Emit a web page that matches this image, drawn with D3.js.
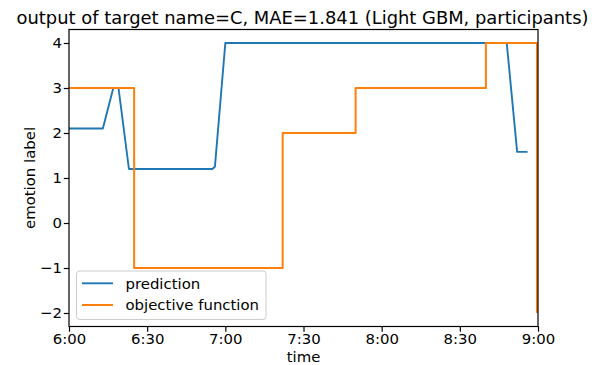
<!DOCTYPE html>
<html>
<head>
<meta charset="utf-8">
<script src="https://cdn.jsdelivr.net/npm/d3@7"></script>
<style>
  body { margin: 0; background: #fff; }
  text { font-family: "DejaVu Sans", sans-serif; fill: #000; }
</style>
</head>
<body>
<svg id="chart" width="606" height="365"></svg>
<script>
// prediction (sampled times, value)
const predTimes = ["06:00:00", "06:13:00", "06:17:00", "06:19:00", "06:23:00", "06:55:00",
                   "06:56:00", "07:00:00", "08:48:00", "08:52:00", "08:56:00"];
const predValues = [2.1, 2.1, 3, 3, 1.2, 1.2, 1.25, 4, 4, 1.58, 1.58];

// objective function (step changes)
const objTimes = ["06:00:00", "06:25:00", "06:25:00", "07:22:00", "07:22:00", "07:50:00",
                  "07:50:00", "08:40:00", "08:40:00", "08:59:36", "08:59:36"];
const objValues = [3, 3, -1, -1, 2, 2, 3, 3, 4, 4, -2];

const xTickLabels = ["6:00", "6:30", "7:00", "7:30", "8:00", "8:30", "9:00"];
const yTicks = [-2, -1, 0, 1, 2, 3, 4];

const parse = d3.timeParse("%H:%M:%S");
const parseTick = d3.timeParse("%H:%M");

const svg = d3.select("#chart");
const plotL = 69, plotR = 538, plotT = 29.5, plotB = 326.5;
const fs = "14.9px";

const x = d3.scaleTime()
  .domain([parse("06:00:00"), parse("09:00:00")])
  .range([plotL, plotR]);
const y = d3.scaleLinear()
  .domain([-2.3, 4.3])
  .range([plotB, plotT]);

const pred = predTimes.map((t, i) => ({ t: parse(t), v: predValues[i] }));
const obj = objTimes.map((t, i) => ({ t: parse(t), v: objValues[i] }));

const line = d3.line().x(d => x(d.t)).y(d => y(d.v));

svg.append("path").datum(pred)
  .attr("d", line).attr("fill", "none")
  .attr("stroke", "#1f77b4").attr("stroke-width", 1.9)
  .attr("stroke-linejoin", "round");
svg.append("path").datum(obj)
  .attr("d", line).attr("fill", "none")
  .attr("stroke", "#ff7f0e").attr("stroke-width", 2)
  .attr("stroke-linejoin", "round");

// axes
const xAxis = d3.axisBottom(x)
  .tickValues(xTickLabels.map(s => parseTick(s)))
  .tickFormat(d3.timeFormat("%-H:%M"))
  .tickSizeOuter(0).tickSize(5.2).tickPadding(2);
const gx = svg.append("g").attr("transform", `translate(0,${plotB})`).call(xAxis);

const yAxis = d3.axisLeft(y)
  .tickValues(yTicks)
  .tickFormat(d => d < 0 ? "\u2212" + Math.abs(d) : d)
  .tickSizeOuter(0).tickSize(5.2).tickPadding(1.8);
const gy = svg.append("g").attr("transform", `translate(${plotL},0)`).call(yAxis);

[gx, gy].forEach(g => {
  g.select(".domain").remove();
  g.selectAll(".tick line").attr("stroke", "#000").attr("stroke-width", 1.2);
  g.selectAll(".tick text").style("font-size", fs).attr("fill", "#000");
});

// spines
svg.append("rect")
  .attr("x", plotL).attr("y", plotT)
  .attr("width", plotR - plotL).attr("height", plotB - plotT)
  .attr("fill", "none").attr("stroke", "#000").attr("stroke-width", 1.2);

// title and labels
svg.append("text")
  .attr("x", (plotL + plotR) / 2 - 1).attr("y", 24)
  .attr("text-anchor", "middle").style("font-size", "17.9px")
  .text("output of target name=C, MAE=1.841 (Light GBM, participants)");
svg.append("text")
  .attr("x", (plotL + plotR) / 2).attr("y", 361.5)
  .attr("text-anchor", "middle").style("font-size", fs)
  .text("time");
svg.append("text")
  .attr("transform", `translate(35,${(plotT + plotB) / 2}) rotate(-90)`)
  .attr("text-anchor", "middle").style("font-size", fs)
  .text("emotion label");

// legend
const legend = svg.append("g");
legend.append("rect")
  .attr("x", 76.5).attr("y", 271).attr("width", 189.5).attr("height", 48.5)
  .attr("rx", 3).attr("fill", "#fff").attr("fill-opacity", 0.8)
  .attr("stroke", "#ccc").attr("stroke-width", 1);
const items = [
  { label: "prediction", color: "#1f77b4", w: 1.9 },
  { label: "objective function", color: "#ff7f0e", w: 2 }
];
items.forEach((it, i) => {
  const yy = 283.3 + i * 21.7;
  legend.append("line")
    .attr("x1", 82).attr("x2", 113).attr("y1", yy).attr("y2", yy)
    .attr("stroke", it.color).attr("stroke-width", it.w);
  legend.append("text")
    .attr("x", 125.5).attr("y", yy + 5.3).style("font-size", fs)
    .text(it.label);
});
</script>
</body>
</html>
